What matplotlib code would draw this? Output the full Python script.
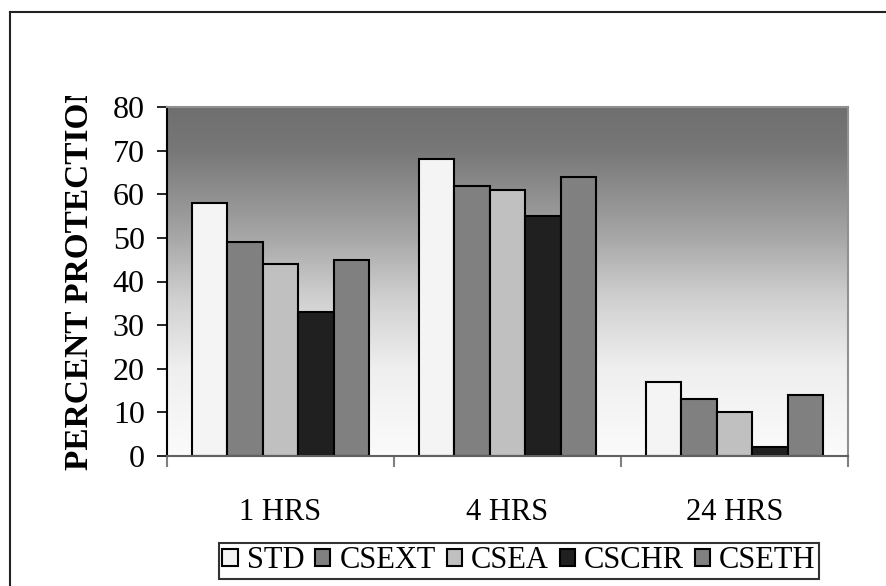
import numpy as np
import matplotlib.pyplot as plt
from matplotlib.lines import Line2D
from matplotlib.patches import Patch
from matplotlib.colors import LinearSegmentedColormap
from matplotlib.transforms import Bbox, TransformedBbox

# Datos
grupos = ['1 HRS', '4 HRS', '24 HRS']
series = ['STD', 'CSEXT', 'CSEA', 'CSCHR', 'CSETH']
std = [58, 68, 17]
csext = [49, 62, 13]
csea = [44, 61, 10]
cschr = [33, 55, 2]
cseth = [45, 64, 14]
colores = ['#f4f4f4', '#808080', '#c0c0c0', '#202020', '#808080']

plt.rcParams['font.family'] = ['Liberation Serif', 'DejaVu Serif']

W, H = 886, 586
fig = plt.figure(figsize=(W / 100, H / 100), dpi=100)
ax = fig.add_axes([167 / W, 1 - 456 / H, (848 - 167) / W, (456 - 107) / H])

# Fondo degradado del area de trazado (oscuro arriba, casi blanco abajo)
degradado = LinearSegmentedColormap.from_list('fondo', [
    (0.0, '#6f6f6f'), (0.12, '#777777'), (0.35, '#a2a2a2'),
    (0.55, '#d0d0d0'), (0.75, '#efefef'), (1.0, '#fbfbfb')])
grad = np.linspace(0, 1, 256).reshape(-1, 1)
ax.imshow(grad, cmap=degradado, vmin=0, vmax=1, aspect='auto',
          extent=[-0.5, 2.5, 0, 80], origin='upper', zorder=0)

x = np.arange(len(grupos))
ancho = 0.156
valores = [std, csext, csea, cschr, cseth]
for i, (nombre, vals) in enumerate(zip(series, valores)):
    ax.bar(x + (i - 2) * ancho, vals, ancho, color=colores[i], edgecolor='black',
           linewidth=1.5, label=nombre, zorder=2)

ax.set_xlim(-0.5, 2.5)
ax.set_ylim(0, 80)
ax.set_yticks(np.arange(0, 81, 10))
ax.set_xticks([-0.5, 0.5, 1.5, 2.5])
ax.set_xticklabels([])
ax.set_xticks(x, minor=True)
ax.set_xticklabels(grupos, minor=True)
ax.tick_params(axis='x', which='minor', length=0, pad=30, labelsize=22)
ax.tick_params(axis='x', which='major', length=8, width=1.5, color='#808080', direction='out')
ax.tick_params(axis='y', length=7, width=1.2, direction='out', labelsize=23, pad=9)

ax.spines['left'].set_linewidth(1.5)
ax.spines['bottom'].set_linewidth(1.5)
ax.spines['bottom'].set_color('#606060')
for lado in ['top', 'right']:
    ax.spines[lado].set_color('#909090')
    ax.spines[lado].set_linewidth(1.5)

# Titulo del eje Y (recortado arriba como en el original)
etiqueta = fig.text(80 / W, 1 - 470 / H, 'PERCENT PROTECTION', rotation=90,
                    ha='center', va='bottom', fontsize=24, fontweight='bold')
caja = TransformedBbox(Bbox([[0, 0], [1, 1 - 96 / H]]), fig.transFigure)
etiqueta.set_clip_box(caja)
etiqueta.set_clip_on(True)

# Leyenda
handles = [Patch(facecolor=c, edgecolor='black', linewidth=1.5) for c in colores]
leg = fig.legend(handles, series, loc='center', ncol=5,
                 bbox_to_anchor=((222 + 816) / 2 / W, 1 - 561 / H),
                 fontsize=22, frameon=True, fancybox=False, edgecolor='black',
                 handlelength=0.5, handleheight=0.5, handletextpad=0.3,
                 columnspacing=0.35, borderpad=0.12, borderaxespad=0)
leg.get_frame().set_linewidth(1.5)

# Borde exterior del grafico
fig.add_artist(Line2D([10 / W, 10 / W], [0, 1 - 12 / H], color='#222222', linewidth=1.5))
fig.add_artist(Line2D([10 / W, 1], [1 - 12 / H, 1 - 12 / H], color='#222222', linewidth=1.5))

fig.savefig('out.png', dpi=100)
